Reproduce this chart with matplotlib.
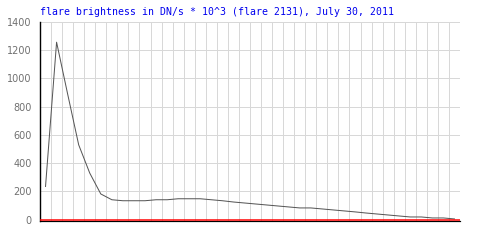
import numpy as np
import matplotlib.pyplot as plt

# flare brightness samples, one per grid interval
brightness = [235, 1257, 890, 530, 330, 182, 141, 134, 134, 134,
              141, 141, 148, 148, 148, 141, 134, 125, 118, 111,
              104, 97, 90, 83, 83, 76, 69, 62, 55, 47,
              40, 33, 26, 19, 19, 12, 12, 5]
y_ticks = [0, 200, 400, 600, 800, 1000, 1200, 1400]
title = "flare brightness in DN/s * 10^3 (flare 2131), July 30, 2011"

n = len(brightness)
x = np.arange(n) + 0.5

fig = plt.figure(figsize=(5, 2.5), dpi=100)
ax = fig.add_axes([0.08, 0.118, 0.84, 0.794])

px = 72 / 100  # one pixel in points
grid_col = "#d8d8d8"

for gx in range(1, n + 1):
    ax.axvline(gx, color=grid_col, lw=px, zorder=1)
for gy in y_ticks[1:]:
    ax.axhline(gy, color=grid_col, lw=px, zorder=1)

ax.plot(x, brightness, color="#555555", lw=px, zorder=3)
ax.axhline(0, color="#ff0000", lw=1.5 * px, zorder=4)

ax.set_xlim(0, n)
ax.set_ylim(-6, 1400)
ax.set_xticks([])
ax.set_yticks(y_ticks)
ax.tick_params(axis="y", length=0, pad=6, labelsize=7, labelcolor="#707070")

for side in ["top", "right"]:
    ax.spines[side].set_visible(False)
ax.spines["left"].set_color("black")
ax.spines["left"].set_linewidth(1.4 * px)
ax.spines["bottom"].set_color("black")
ax.spines["bottom"].set_linewidth(1.2 * px)

fig.text(0.08, 0.952, title, family="DejaVu Sans Mono", fontsize=7.1,
         color="#0000ee", va="center", ha="left")

fig.savefig("out.png", dpi=100)
